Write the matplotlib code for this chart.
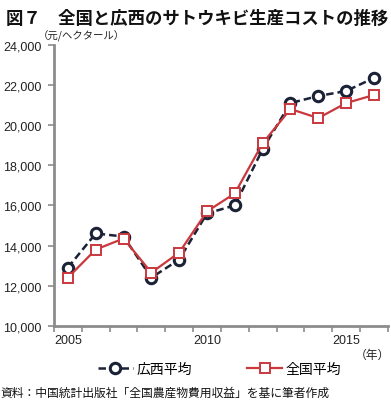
import matplotlib
matplotlib.use("Agg")
import matplotlib.pyplot as plt
import matplotlib.ticker as mticker
import numpy as np

plt.rcParams['font.family'] = ['Noto Sans CJK JP', 'DejaVu Sans']

years = [2005, 2006, 2007, 2008, 2009, 2010, 2011, 2012, 2013, 2014, 2015, 2016]
guangxi = [12900, 14600, 14450, 12400, 13300, 15600, 16000, 18800, 21100, 21450, 21700, 22350]
national = [12400, 13800, 14350, 12650, 13650, 15700, 16600, 19100, 20800, 20350, 21100, 21500]
year_labels = ['2005', '2010', '2015']

navy = '#1b2236'
red = '#c9383d'
grey = '#8c8c8c'
num_font = 'Liberation Sans'

fig = plt.figure(figsize=(3.91, 4.02), dpi=100)
ax = fig.add_axes([0.138, 0.187, 0.854, 0.699])

x = np.arange(len(years))
ax.plot(x, guangxi, color=navy, ls=(0, (3, 1.6)), lw=1.8, marker='o', ms=7.5,
        mfc='white', mec=navy, mew=2.2, label='広西平均', zorder=3)
ax.plot(x, national, color=red, lw=1.6, marker='s', ms=7.5,
        mfc='white', mec=red, mew=1.4, label='全国平均', zorder=4)

ax.set_xlim(-0.5, len(years) - 0.5)
ax.set_ylim(10000, 24000)
ax.yaxis.set_major_locator(mticker.MultipleLocator(2000))
ax.yaxis.set_major_formatter(mticker.StrMethodFormatter('{x:,.0f}'))

# category axis: ticks between years, labels at selected years
ax.set_xticks(np.arange(len(years) + 1) - 0.5)
ax.set_xticklabels([])
label_pos = [years.index(int(y)) for y in year_labels]
ax.set_xticks(label_pos, minor=True)
ax.set_xticklabels(year_labels, minor=True)
ax.tick_params(axis='x', which='minor', length=0, pad=6, labelsize=9, labelcolor='#222222')
ax.tick_params(axis='x', which='major', length=4, width=1.2, color=grey, direction='out')
ax.tick_params(axis='y', length=4, width=1.2, color=grey, labelsize=9, labelcolor='#222222', pad=5)
for lab in ax.get_yticklabels() + ax.get_xticklabels(minor=True):
    lab.set_family(num_font)

for s in ['top', 'right']:
    ax.spines[s].set_visible(False)
for s in ['left', 'bottom']:
    ax.spines[s].set_color(grey)
    ax.spines[s].set_linewidth(2)

fig.text(0.015, 0.975, '図７　全国と広西のサトウキビ生産コストの推移', fontsize=12.5,
         fontweight='bold', va='top', ha='left', color='#111111')
fig.text(0.097, 0.91, '（元/ヘクタール）', fontsize=7.5, va='center', ha='left', color='#222222')
fig.text(0.998, 0.115, '（年）', fontsize=8.5, va='center', ha='right', color='#222222')
fig.text(0.0, 0.022, '資料：中国統計出版社「全国農産物費用収益」を基に筆者作成', fontsize=8.5,
         va='center', ha='left', color='#111111')

fig.legend(loc='center left', bbox_to_anchor=(98 / 391, 0.08), ncol=2, frameon=False,
           fontsize=10, handlelength=2.5, columnspacing=4.0, handletextpad=0.25,
           borderpad=0, borderaxespad=0)

fig.savefig('out.png', dpi=100)
